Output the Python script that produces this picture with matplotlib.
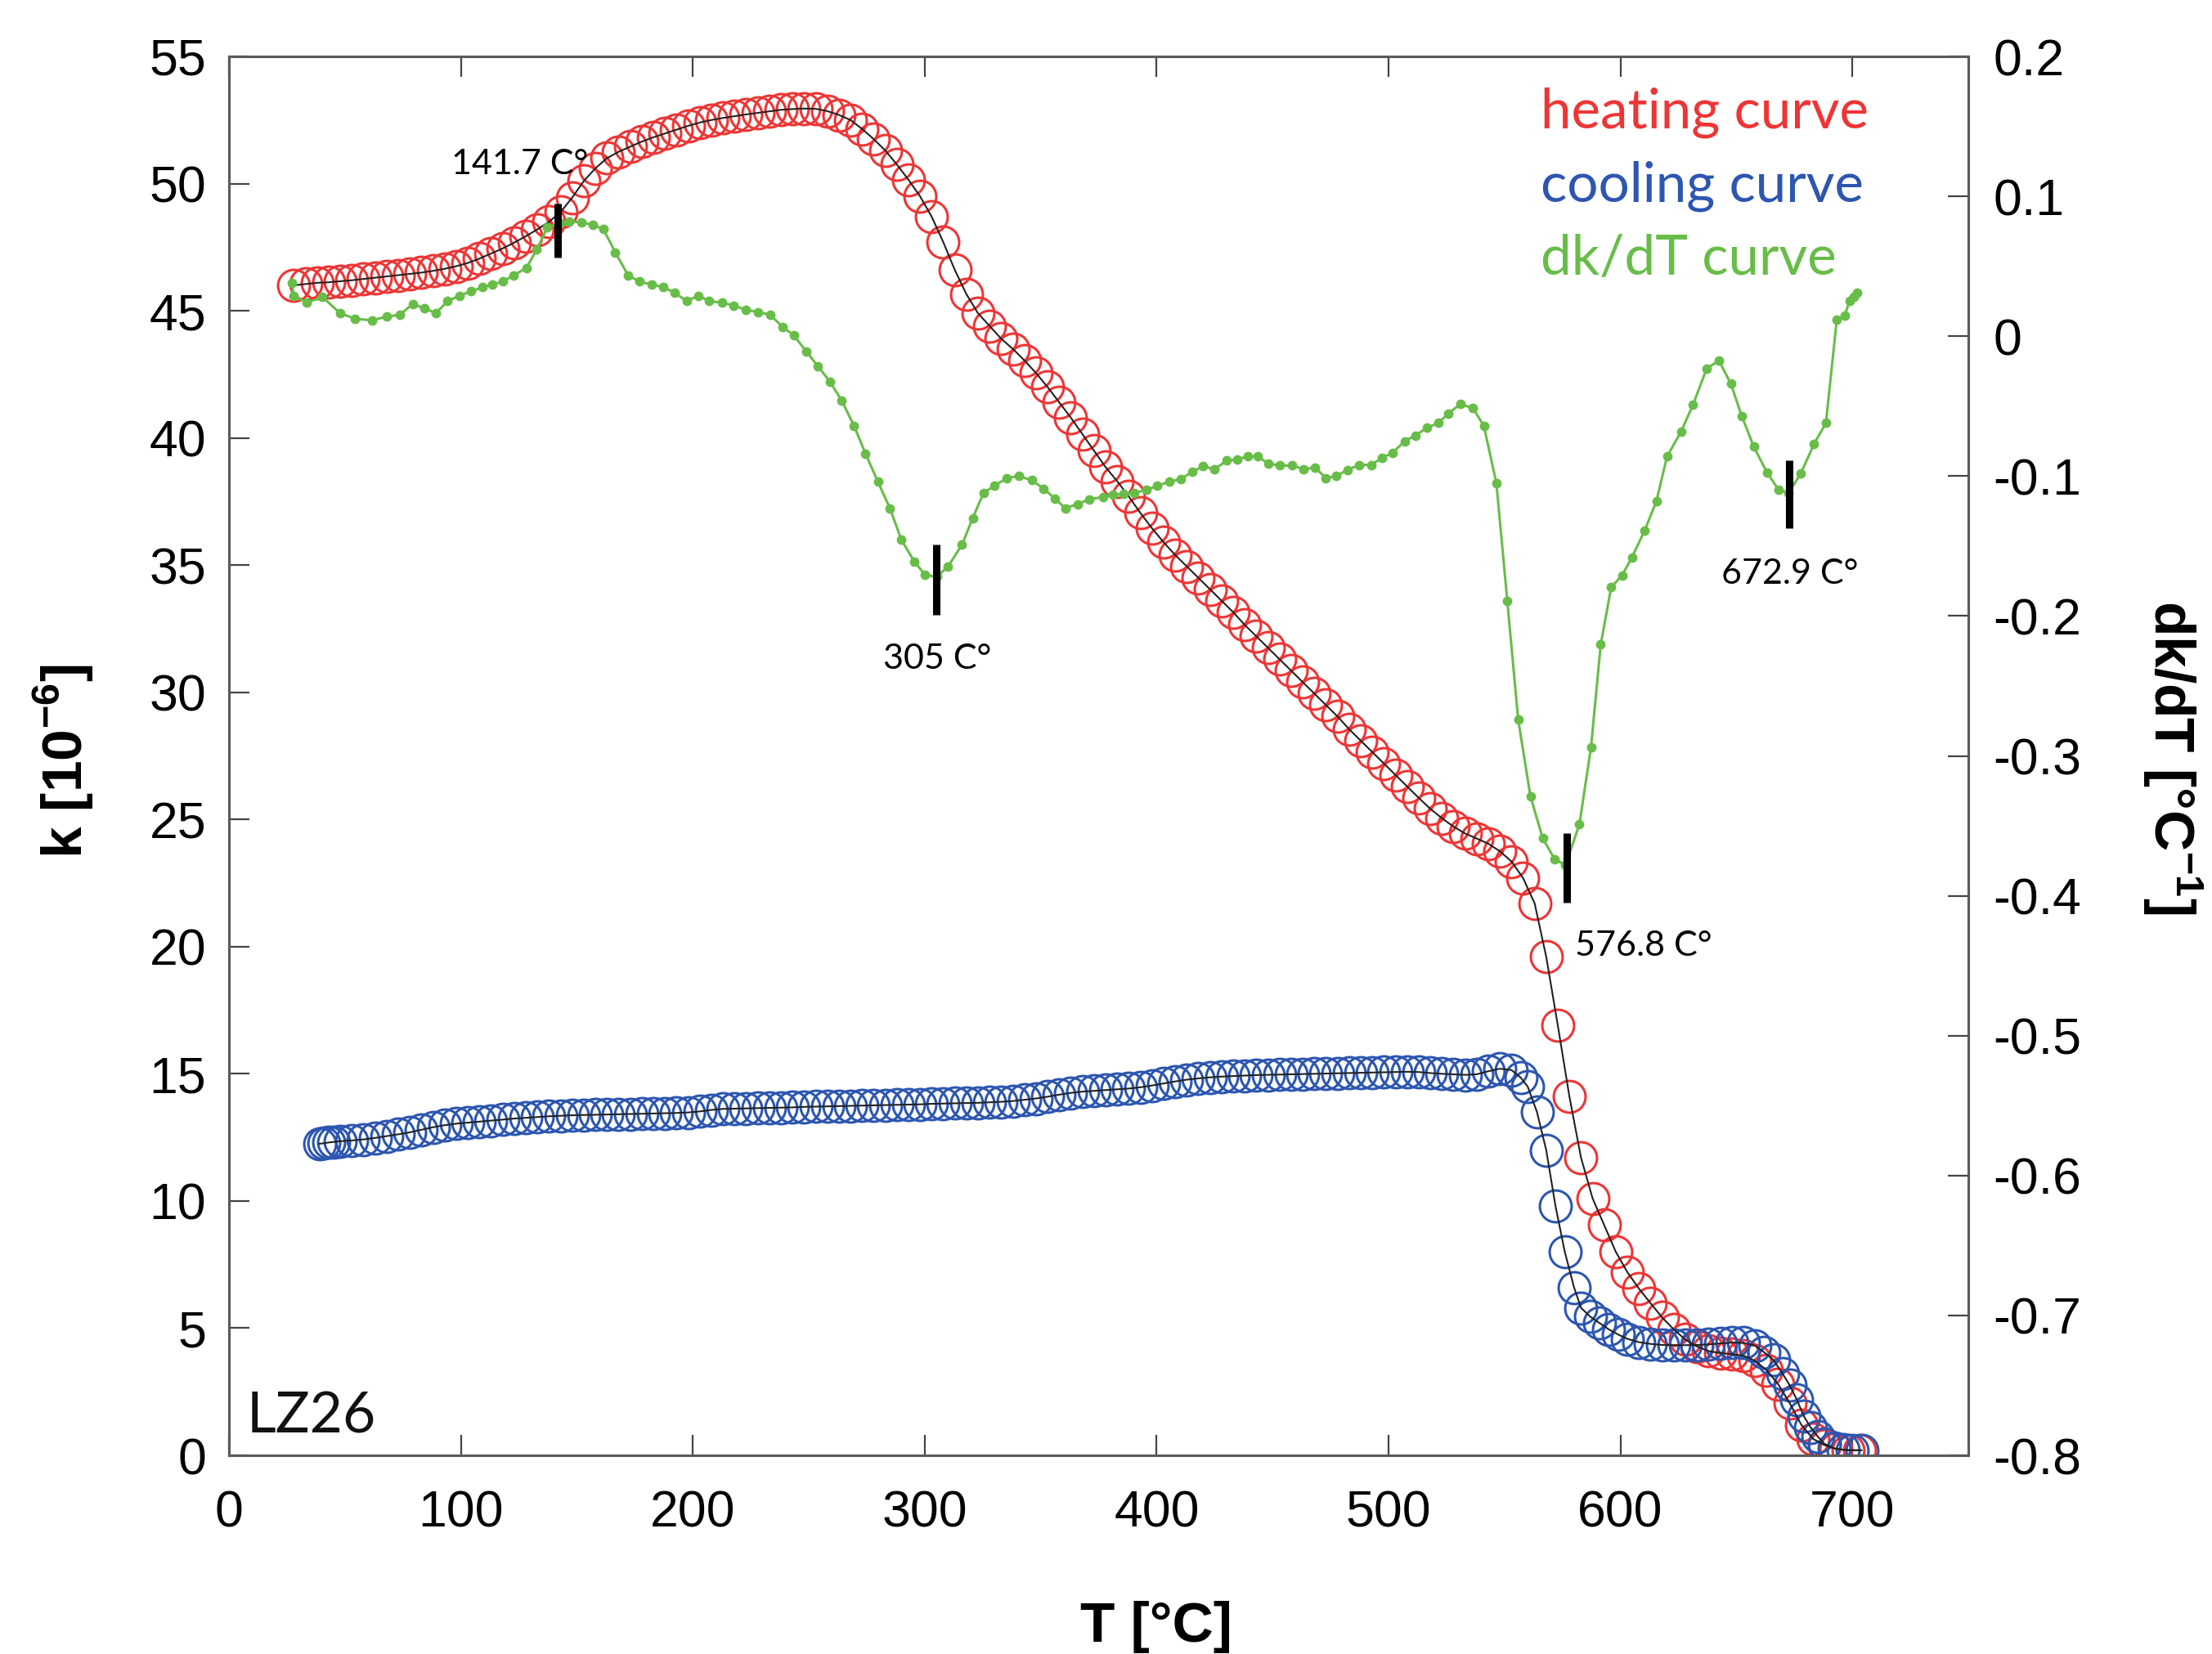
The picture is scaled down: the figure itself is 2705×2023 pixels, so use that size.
"""Susceptibility heating/cooling curves with dk/dT derivative (sample LZ26)"""

import matplotlib
matplotlib.use("Agg")
import matplotlib.pyplot as plt

# === data ===
heat_T = [
    28, 33, 38, 43, 48, 53, 58, 63, 68, 73,
    78, 83, 88, 93, 98, 103, 108, 113, 118, 123,
    128, 133, 138, 143, 148, 153, 158, 163, 168, 173,
    178, 183, 188, 193, 198, 203, 208, 213, 218, 223,
    228, 233, 238, 243, 248, 253, 258, 263, 268, 273,
    278, 283, 288, 293, 298, 303, 308, 313, 318, 323,
    328, 333, 338, 343, 348, 353, 358, 363, 368, 373,
    378, 383, 388, 393, 398, 403, 408, 413, 418, 423,
    428, 433, 438, 443, 448, 453, 458, 463, 468, 473,
    478, 483, 488, 493, 498, 503, 508, 513, 518, 523,
    528, 533, 538, 543, 548, 553, 558, 563, 568, 573,
    578, 583, 588, 593, 598, 603, 608, 613, 618, 623,
    628, 633, 638, 643, 648, 653, 658, 663, 668, 673,
    678, 683, 688, 693, 698, 703,
]
heat_k = [
    46.0, 46.05, 46.1, 46.12, 46.16, 46.2, 46.25, 46.3, 46.35, 46.4,
    46.45, 46.5, 46.57, 46.65, 46.75, 46.88, 47.05, 47.25, 47.45, 47.68,
    47.93, 48.2, 48.5, 48.88, 49.45, 50.1, 50.6, 51.0, 51.25, 51.45,
    51.65, 51.82, 51.97, 52.12, 52.27, 52.4, 52.5, 52.58, 52.65, 52.72,
    52.78, 52.84, 52.9, 52.93, 52.95, 52.94, 52.85, 52.7, 52.5, 52.15,
    51.75, 51.3, 50.75, 50.15, 49.5, 48.7, 47.7, 46.6, 45.65, 44.9,
    44.4, 43.9, 43.5, 43.05, 42.55, 42.0, 41.4, 40.8, 40.15, 39.5,
    38.85, 38.3, 37.7, 37.05, 36.45, 35.9, 35.4, 34.95, 34.5, 34.05,
    33.6, 33.15, 32.65, 32.2, 31.75, 31.3, 30.85, 30.4, 29.95, 29.5,
    29.05, 28.55, 28.1, 27.65, 27.2, 26.75, 26.3, 25.85, 25.42, 25.05,
    24.72, 24.45, 24.25, 24.05, 23.75, 23.35, 22.7, 21.7, 19.6, 16.9,
    14.1, 11.7, 10.1, 9.05, 8.0, 7.2, 6.55, 5.98, 5.42, 4.95,
    4.55, 4.28, 4.1, 4.02, 3.98, 3.92, 3.72, 3.35, 2.8, 2.05,
    1.2, 0.65, 0.4, 0.25, 0.2, 0.2,
]

cool_T = [
    39, 41, 43, 45, 48, 53, 58, 63, 68, 73,
    78, 83, 88, 93, 98, 103, 108, 113, 118, 123,
    128, 133, 138, 143, 148, 153, 158, 163, 168, 173,
    178, 183, 188, 193, 198, 203, 208, 213, 218, 223,
    228, 233, 238, 243, 248, 253, 258, 263, 268, 273,
    278, 283, 288, 293, 298, 303, 308, 313, 318, 323,
    328, 333, 338, 343, 348, 353, 358, 363, 368, 373,
    378, 383, 388, 393, 398, 403, 408, 413, 418, 423,
    428, 433, 438, 443, 448, 453, 458, 463, 468, 473,
    478, 483, 488, 493, 498, 503, 508, 513, 518, 523,
    528, 533, 538, 543, 548, 553, 557, 560, 564, 568,
    572, 576, 580, 583, 587, 591, 595, 599, 603, 608,
    613, 618, 623, 628, 633, 638, 643, 648, 653, 658,
    662, 666, 670, 673, 676, 679, 682, 685, 688, 692,
    696, 700, 704,
]
cool_k = [
    12.25, 12.27, 12.3, 12.32, 12.35, 12.38, 12.42, 12.48, 12.55, 12.62,
    12.7, 12.8, 12.9, 12.98, 13.04, 13.08, 13.12, 13.16, 13.2, 13.24,
    13.27, 13.3, 13.33, 13.35, 13.37, 13.38, 13.39, 13.4, 13.41, 13.42,
    13.43, 13.44, 13.45, 13.46, 13.48, 13.52, 13.58, 13.62, 13.63, 13.64,
    13.65, 13.66, 13.67, 13.68, 13.7, 13.71, 13.72, 13.73, 13.74, 13.75,
    13.76, 13.77, 13.78, 13.79, 13.8, 13.82, 13.83, 13.84, 13.85, 13.86,
    13.88, 13.9, 13.93, 13.98, 14.03, 14.1, 14.18, 14.25, 14.3, 14.33,
    14.36, 14.39, 14.42, 14.47, 14.54, 14.62, 14.7, 14.77, 14.82, 14.86,
    14.89, 14.91, 14.93, 14.95, 14.96, 14.97, 14.98, 14.99, 15.0, 15.01,
    15.02, 15.03, 15.04, 15.05, 15.06, 15.07, 15.08, 15.07, 15.03, 15.0,
    14.98, 14.96, 14.98, 15.1, 15.2, 15.15, 14.85, 14.5, 13.5, 12.0,
    9.8, 8.0, 6.6, 5.8, 5.45, 5.2, 4.95, 4.75, 4.58, 4.45,
    4.38, 4.34, 4.33, 4.33, 4.34, 4.36, 4.4, 4.43, 4.42, 4.32,
    4.05, 3.75, 3.2, 2.75, 2.2, 1.55, 1.1, 0.75, 0.45, 0.28,
    0.22, 0.2, 0.2,
]

dkdt_T = [
    27, 28, 33.5, 40.3, 47.9, 54.4, 61.6, 68.1, 73.7, 79.2,
    84.2, 89.2, 94.3, 99.3, 104.4, 109.4, 113.5, 118.1, 122.6, 128.2,
    132.7, 137.3, 142.8, 146.8, 151.9, 156.9, 161.4, 166.6, 172.1, 177.1,
    182.2, 187.3, 192.3, 197.4, 202.4, 207.1, 212.6, 217.6, 222.7, 228.1,
    233.4, 238.8, 243.5, 249.0, 254.0, 259.1, 264.2, 269.5, 274.5, 279.8,
    285.0, 289.9, 295.5, 300.2, 305.2, 310.1, 316.1, 320.7, 325.4, 330.0,
    335.5, 340.5, 346.2, 351.3, 356.1, 360.6, 366.0, 371.0, 376.8, 381.3,
    385.7, 390.2, 395.6, 400.1, 405.5, 410.5, 415.4, 419.9, 424.9, 430.3,
    434.6, 439.3, 443.6, 448.2, 453.1, 458.5, 463.3, 468.4, 472.9, 477.4,
    482.4, 487.3, 492.6, 497.1, 501.6, 507.0, 511.5, 516.5, 521.4, 525.9,
    530.9, 536.3, 541.1, 546.5, 551.2, 555.9, 561.2, 566.5, 571.7, 576.3,
    582.3, 587.3, 591.5, 596.0, 600.7, 605.0, 610.4, 615.5, 620.1, 626.2,
    631.3, 637.2, 642.5, 647.6, 652.3, 657.5, 663.2, 668.3, 672.5, 677.8,
    683.5, 688.6, 693.3, 696.7, 698.8, 700.8, 702.2,
]
dkdt_v = [
    0.038, 0.029, 0.024, 0.028, 0.0165, 0.0124, 0.0114, 0.014, 0.0153, 0.023,
    0.020, 0.0165, 0.025, 0.029, 0.032, 0.035, 0.037, 0.039, 0.0435, 0.0486,
    0.062, 0.0777, 0.0807, 0.082, 0.0815, 0.0795, 0.0766, 0.060, 0.0435, 0.039,
    0.037, 0.035, 0.031, 0.025, 0.029, 0.025, 0.024, 0.022, 0.019, 0.0173,
    0.0153, 0.0065, 0.0007, -0.011, -0.0217, -0.0324, -0.046, -0.064, -0.084, -0.104,
    -0.123, -0.1454, -0.161, -0.1707, -0.172, -0.1645, -0.149, -0.130, -0.112, -0.107,
    -0.1014, -0.100, -0.103, -0.109, -0.116, -0.123, -0.120, -0.1165, -0.115, -0.1134,
    -0.1128, -0.112, -0.110, -0.107, -0.104, -0.102, -0.097, -0.093, -0.095, -0.089,
    -0.088, -0.086, -0.086, -0.091, -0.0925, -0.0925, -0.095, -0.094, -0.1014, -0.100,
    -0.0955, -0.092, -0.092, -0.087, -0.0835, -0.075, -0.071, -0.0656, -0.062, -0.0552,
    -0.0486, -0.0513, -0.064, -0.105, -0.189, -0.274, -0.329, -0.359, -0.374, -0.378,
    -0.349, -0.294, -0.2204, -0.1795, -0.171, -0.158, -0.139, -0.118, -0.086, -0.068,
    -0.049, -0.023, -0.0175, -0.034, -0.057, -0.079, -0.0975, -0.110, -0.112, -0.098,
    -0.077, -0.062, 0.012, 0.015, 0.025, 0.028, 0.031,
]

peak_T = [141.7, 305.0, 576.8, 672.9]
peak_labels = ["141.7 C°", "305 C°", "576.8 C°", "672.9 C°"]

k_ticks = [0, 5, 10, 15, 20, 25, 30, 35, 40, 45, 50, 55]
d_ticks = [-0.8, -0.7, -0.6, -0.5, -0.4, -0.3, -0.2, -0.1, 0.0, 0.1, 0.2]
d_tick_labels = ["-0.8", "-0.7", "-0.6", "-0.5", "-0.4", "-0.3", "-0.2", "-0.1", "0", "0.1", "0.2"]
T_ticks = [0, 100, 200, 300, 400, 500, 600, 700]

# === style ===
RED = "#EE3535"
BLUE = "#2C56B0"
GREEN = "#68BD48"
SPINE = "#5A5A5A"

plt.rcParams["font.family"] = ["Liberation Sans", "DejaVu Sans"]
plt.rcParams["axes.unicode_minus"] = False
plt.rcParams["mathtext.fontset"] = "custom"
plt.rcParams["mathtext.rm"] = "Liberation Sans"
plt.rcParams["mathtext.bf"] = "Liberation Sans:bold"

W, H = 2705, 2023
fig = plt.figure(figsize=(W / 100, H / 100), dpi=100)
ax = fig.add_axes([280 / W, 1 - 1780 / H, 2127 / W, 1711 / H])
ax2 = ax.twinx()

# heating / cooling circles with a thin black trace
ax.plot(heat_T, heat_k, "o", mfc="none", mec=RED, ms=28, mew=2.2, zorder=2)
ax.plot(cool_T, cool_k, "o", mfc="none", mec=BLUE, ms=28, mew=2.2, zorder=3)
ax.plot(heat_T, heat_k, color="#222222", lw=1.5, zorder=4)
ax.plot(cool_T, cool_k, color="#222222", lw=1.5, zorder=4)

ax.set_xlim(0, 750)
ax.set_ylim(0, 55)
ax.set_xticks(T_ticks)
ax.set_xticklabels([str(t) for t in T_ticks])
ax.set_yticks(k_ticks)
ax.set_yticklabels([str(k) for k in k_ticks])
ax.tick_params(axis="both", direction="in", length=18, width=1.6, color="#444444",
               labelsize=45)
ax.tick_params(axis="y", pad=20)
ax.tick_params(axis="x", top=True, pad=30)

# derivative on the right-hand axis
ax2.plot(dkdt_T, dkdt_v, "-o", color=GREEN, lw=2.2, ms=7.5, zorder=5)
ax2.set_ylim(-0.8, 0.2)
ax2.set_yticks(d_ticks)
ax2.set_yticklabels(d_tick_labels)
ax2.tick_params(axis="y", direction="in", length=18, width=1.6, color="#444444",
                labelsize=45, pad=22)

for a in (ax, ax2):
    for sp in a.spines.values():
        sp.set_color(SPINE)
        sp.set_linewidth(2.2)

# peak markers and their labels (bar range, label anchor)
bar_ranges = [(0.056, 0.095), (-0.199, -0.149), (-0.405, -0.355), (-0.137, -0.089)]
label_pos = [(125.4, 0.123, "center"), (305.3, -0.231, "center"),
             (580.3, -0.436, "left"), (672.9, -0.170, "center")]
for t, (lo, hi) in zip(peak_T, bar_ranges):
    ax2.plot([t, t], [lo, hi], color="black", lw=6.5, solid_capstyle="butt", zorder=6)
for text, (x, y, ha) in zip(peak_labels, label_pos):
    ax2.text(x, y, text, family="Lato", fontsize=31, ha=ha, va="center", zorder=7)

# in-plot legend text
ax.text(0.754, 0.9486, "heating curve", transform=ax.transAxes, color=RED,
        family="Lato", fontsize=48.5, va="baseline")
ax.text(0.754, 0.8960, "cooling curve", transform=ax.transAxes, color=BLUE,
        family="Lato", fontsize=48.5, va="baseline")
ax.text(0.754, 0.8440, "dk/dT curve", transform=ax.transAxes, color=GREEN,
        family="Lato", fontsize=48.5, va="baseline")
ax.text(0.0102, 0.0158, "LZ26", transform=ax.transAxes, family="Lato",
        fontsize=50, va="baseline", color="#111111")

# axis titles
fig.text(78 / W, 1 - 931 / H, r"k [10$^{\mathbf{-6}}$]", rotation=90,
         ha="center", va="center", fontsize=50, fontweight="bold")
fig.text(1414 / W, 1 - 1990 / H, "T [°C]", ha="center", va="center",
         fontsize=50, fontweight="bold")
fig.text(2657 / W, 1 - 927 / H, r"dk/dT [°C$^{\mathbf{-1}}$]", rotation=-90,
         ha="center", va="center", fontsize=50, fontweight="bold")

fig.savefig("out.png", dpi=100)
plt.close(fig)
